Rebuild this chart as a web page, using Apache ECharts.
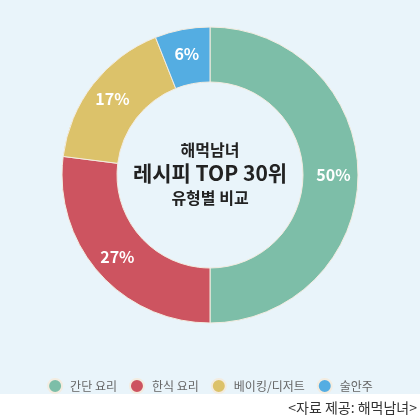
<!DOCTYPE html>
<html>
<head>
<meta charset="utf-8">
<script src="https://cdn.jsdelivr.net/npm/echarts@6/dist/echarts.min.js"></script>
<style>
html,body{margin:0;padding:0;background:#ffffff;}
#c{width:420px;height:420px;}
</style>
</head>
<body>
<div id="c"></div>
<script>
var categories = ['간단 요리', '한식 요리', '베이킹/디저트', '술안주'];
var values = [50, 27, 17, 6];
var colors = ['#7dbea8', '#cd5460', '#dcc26a', '#54ade2'];
var centerLines = ['해먹남녀', '레시피 TOP 30위', '유형별 비교'];
var sourceText = '<자료 제공: 해먹남녀>';

var font = '"Noto Sans CJK KR", "Noto Sans", sans-serif';
var chart = echarts.init(document.getElementById('c'));
chart.setOption({
  backgroundColor: '#ffffff',
  animation: false,
  graphic: [
    { type: 'rect', z: -10, silent: true, shape: { x: 0, y: 0, width: 420, height: 394 }, style: { fill: '#e9f4fa' } },
    { type: 'text', left: 'center', top: 142, style: { text: centerLines[0], font: 'bold 16px ' + font, fill: '#222' } },
    { type: 'text', left: 'center', top: 163, style: { text: centerLines[1], font: 'bold 21px ' + font, fill: '#222' } },
    { type: 'text', left: 'center', top: 190, style: { text: centerLines[2], font: 'bold 16px ' + font, fill: '#222' } },
    { type: 'text', right: 3, top: 401, style: { text: sourceText, font: '14px ' + font, fill: '#333' } }
  ],
  legend: {
    data: categories,
    bottom: 21,
    left: 'center',
    icon: 'circle',
    itemWidth: 14,
    itemHeight: 14,
    itemGap: 12,
    textStyle: { fontFamily: font, fontSize: 12, color: '#666', padding: [0, 0, 0, 3] }
  },
  series: [{
    type: 'pie',
    center: [210, 175],
    radius: [93, 148],
    startAngle: 90,
    clockwise: true,
    color: colors,
    itemStyle: { borderColor: '#f3ece0', borderWidth: 1 },
    label: {
      show: true,
      position: 'inside',
      formatter: '{c}%',
      color: '#ffffff',
      fontFamily: font,
      fontSize: 16,
      fontWeight: 'bold'
    },
    labelLine: { show: false },
    data: categories.map(function (n, i) { return { name: n, value: values[i] }; })
  }]
});
</script>
</body>
</html>
